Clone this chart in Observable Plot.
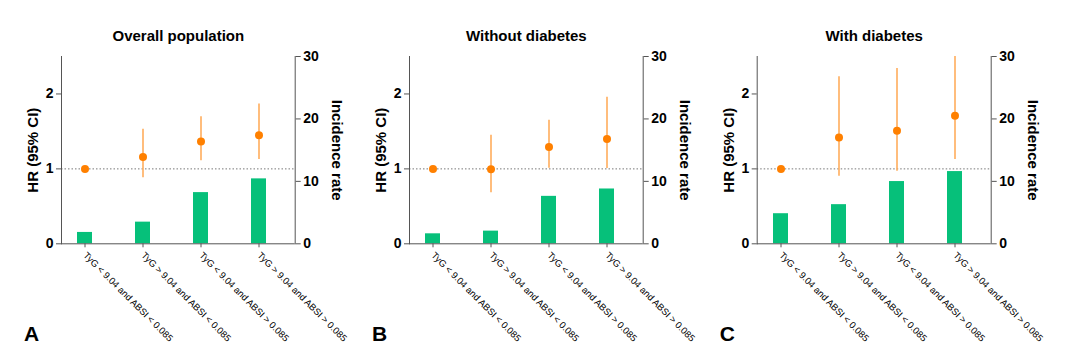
<!DOCTYPE html>
<html>
<head>
<meta charset="utf-8">
<script src="https://cdn.jsdelivr.net/npm/d3@7"></script>
<script src="https://cdn.jsdelivr.net/npm/@observablehq/plot@0.6"></script>
<style>
  body { margin: 0; background: #fff; }
  #wrap { display: flex; width: 1080px; height: 364px; }
  #wrap > div { width: 360px; height: 364px; }
  svg { font-family: Arial, "Liberation Sans", Helvetica, sans-serif; }
</style>
</head>
<body>
<div id="wrap"></div>
<script>
// ---- data ----
const categories = [
  "TyG < 9.04 and ABSI < 0.085",
  "TyG > 9.04 and ABSI < 0.085",
  "TyG < 9.04 and ABSI > 0.085",
  "TyG > 9.04 and ABSI > 0.085"
];
const panelTitles = ["Overall population", "Without diabetes", "With diabetes"];
const panelLetters = ["A", "B", "C"];

const hrOverall = [1.00, 1.16, 1.365, 1.45];
const loOverall = [1.00, 0.88, 1.11, 1.125];
const hiOverall = [1.00, 1.53, 1.695, 1.865];
const irOverall = [1.82, 3.47, 8.2, 10.4];

const hrNoDiab = [1.00, 0.995, 1.293, 1.40];
const loNoDiab = [1.00, 0.68, 1.01, 1.004];
const hiNoDiab = [1.00, 1.45, 1.65, 1.955];
const irNoDiab = [1.6, 2.03, 7.6, 8.78];

const hrDiab = [1.00, 1.42, 1.51, 1.71];
const loDiab = [1.00, 0.90, 0.97, 1.125];
const hiDiab = [1.00, 2.23, 2.34, 2.50];
const irDiab = [4.82, 6.27, 9.97, 11.57];

const hrTicks = [0, 1, 2];
const irTicks = [0, 10, 20, 30];
const hrMax = 2.5, irMax = 30;
const ratio = irMax / hrMax;

const panels = [
  {hr: hrOverall, lo: loOverall, hi: hiOverall, ir: irOverall, ml: 61, mr: 65.3},
  {hr: hrNoDiab, lo: loNoDiab, hi: hiNoDiab, ir: irNoDiab, ml: 49, mr: 77.3},
  {hr: hrDiab, lo: loDiab, hi: hiDiab, ir: irDiab, ml: 36.7, mr: 89.3}
];

const green = "#06c07a", orange = "#ff8000", orangeLight = "#ffad5c", axisGray = "#555";

panels.forEach((p, i) => {
  const rows = categories.map((c, j) => ({
    cat: c, hr: p.hr[j], lo: p.lo[j], hi: p.hi[j], irScaled: p.ir[j] / ratio
  }));
  const chart = Plot.plot({
    width: 360,
    height: 364,
    marginTop: 56,
    marginBottom: 120.7,
    marginLeft: p.ml,
    marginRight: p.mr,
    x: {type: "band", domain: categories, paddingInner: 0.744, paddingOuter: 0.37, align: 0.36, label: null},
    y: {domain: [0, hrMax], label: null},
    marks: [
      Plot.barY(rows, {x: "cat", y: "irScaled", fill: green}),
      Plot.ruleY([1], {stroke: "#777", strokeDasharray: "1.5,2", strokeWidth: 1}),
      Plot.ruleX(rows, {x: "cat", y1: "lo", y2: "hi", stroke: orangeLight, strokeWidth: 1.6}),
      Plot.dot(rows, {x: "cat", y: "hr", r: 4, fill: orange}),
      Plot.frame({anchor: "left", stroke: axisGray}),
      Plot.frame({anchor: "right", stroke: axisGray}),
      Plot.ruleY([0], {stroke: axisGray}),
      Plot.axisY(hrTicks, {anchor: "left", tickSize: 5, tickPadding: 3, fontSize: 14, fontWeight: "bold", stroke: axisGray, fill: "black", tickFormat: d3.format("d"), label: null}),
      Plot.axisY(irTicks.map(d => d / ratio), {anchor: "right", tickSize: 5, tickPadding: 3, fontSize: 14, fontWeight: "bold", stroke: axisGray, fill: "black", tickFormat: d => Math.round(d * ratio), label: null}),
      Plot.axisX({anchor: "bottom", tickSize: 4, tickPadding: 6, tickRotate: 45, fontSize: 9.4, stroke: axisGray, fill: "black", label: null}),
      Plot.text(["HR (95% CI)"], {frameAnchor: "left", textAnchor: "middle", lineAnchor: "middle", rotate: -90, dx: -28, fontSize: 15, fontWeight: "bold", fill: "black"}),
      Plot.text(["Incidence rate"], {frameAnchor: "right", textAnchor: "middle", lineAnchor: "middle", rotate: 90, dx: 42, fontSize: 15, fontWeight: "bold", fill: "black"}),
      Plot.text([panelTitles[i]], {frameAnchor: "top", lineAnchor: "middle", dy: -20, fontSize: 15, fontWeight: "bold", fill: "black"}),
      Plot.text([panelLetters[i]], {frameAnchor: "bottom-left", lineAnchor: "bottom", dx: -37.5, dy: 97, fontSize: 21, fontWeight: "bold", fill: "black", textAnchor: "start"})
    ]
  });
  const div = document.createElement("div");
  div.appendChild(chart);
  document.getElementById("wrap").appendChild(div);
});
</script>
</body>
</html>
